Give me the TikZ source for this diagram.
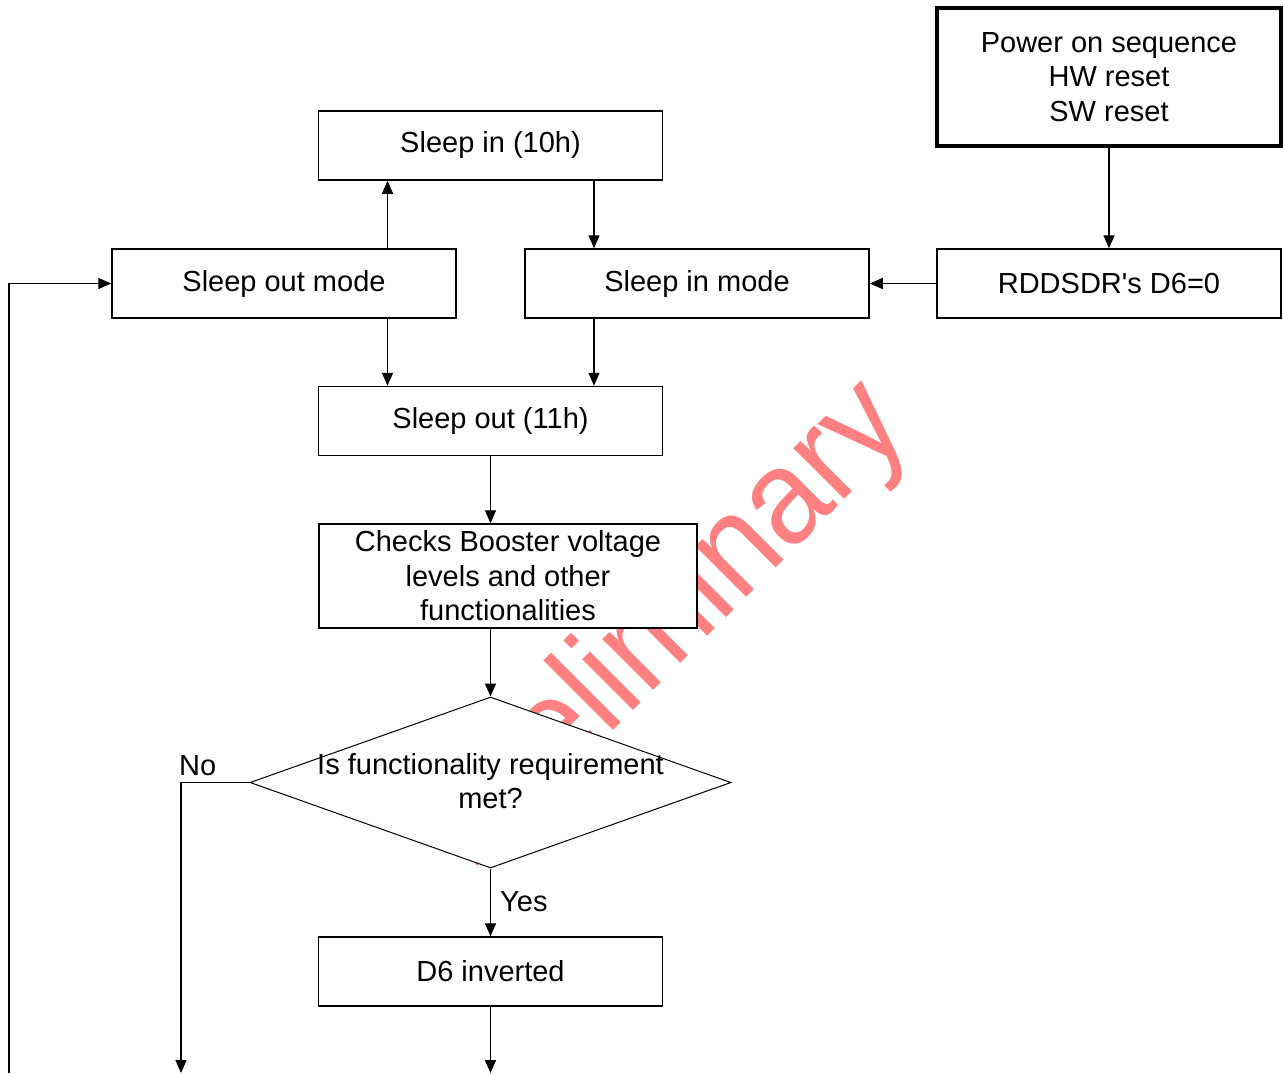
\documentclass[tikz,border=0pt]{standalone}
\usepackage{fontspec}
\newfontfamily\arial{Liberation Sans}
\usetikzlibrary{arrows.meta,shapes.geometric}
\begin{document}
\begin{tikzpicture}[x=1pt,y=-1pt,
  every node/.style={font=\arial\fontsize{29}{34.5}\selectfont},
  box/.style={draw, line width=1.5pt, fill=white, minimum width=344pt, minimum height=69pt, inner sep=0pt, align=center},
  arr/.style={line width=1.4pt, -{Triangle[length=13pt,width=11pt]}},
  ln/.style={line width=1.4pt}]
\useasboundingbox (0,0) rectangle (1284,1073);
% watermark
\node[rotate=45, xscale=0.92, anchor=base west, text=red!50, inner sep=0pt, font=\arial\fontsize{136}{136}\selectfont] (wm) at (470,874) {Preliminary};
% nodes
\node[box, line width=4pt, minimum width=344pt, minimum height=138pt] (pwr) at (1109,77) {Power on sequence\\HW reset\\SW reset};
\node[box] (si10) at (490.5,145.5) {Sleep in (10h)};
\node[box] (som) at (284,283.5) {Sleep out mode};
\node[box] (sim) at (697,283.5) {Sleep in mode};
\node[box] (rdd) at (1109,283.5) {RDDSDR's D6=0};
\node[box] (so11) at (490.5,421) {Sleep out (11h)};
\node[box, minimum width=378pt, minimum height=104pt] (chk) at (508,576) {Checks Booster voltage\\levels and other\\functionalities};
\node[draw, diamond, line width=1pt, fill=white, minimum width=481pt, minimum height=171pt, inner sep=0pt] (dia) at (490.5,782.5) {};
\node[align=center, inner sep=0pt] (diat) at (490.5,781) {Is functionality requirement\\met?};
\node[box] (d6) at (490.5,971.5) {D6 inverted};
\coordinate (noend) at (181,1073);
\coordinate (d6end) at (490.5,1073);
\coordinate (loop) at (9,1073);
% connectors
\draw[arr] (pwr) -- (rdd);
\draw[arr] (rdd) -- (sim);
\draw[arr] ([xshift=103.5pt]som.north) -- ([xshift=103.5pt]som.north |- si10.south);
\draw[arr] ([xshift=103.5pt]si10.south) -- ([xshift=103.5pt]si10.south |- sim.north);
\draw[arr] ([xshift=103.5pt]som.south) -- ([xshift=103.5pt]som.south |- so11.north);
\draw[arr] ([xshift=-103pt]sim.south) -- ([xshift=-103pt]sim.south |- so11.north);
\draw[arr] (so11.south) -- (so11.south |- chk.north);
\draw[arr] (so11.south |- chk.south) -- (dia.north);
\draw[arr] (dia.south) -- node[right, inner sep=0pt, xshift=9pt, yshift=1pt] {Yes} (d6.north);
\draw[arr] (dia.west) -| (noend);
\node[anchor=base west, inner sep=0pt] (no) at (179,775) {No};
\draw[arr] (d6.south) -- (d6end);
\draw[arr] (loop) |- (som.west);
\end{tikzpicture}
\end{document}
